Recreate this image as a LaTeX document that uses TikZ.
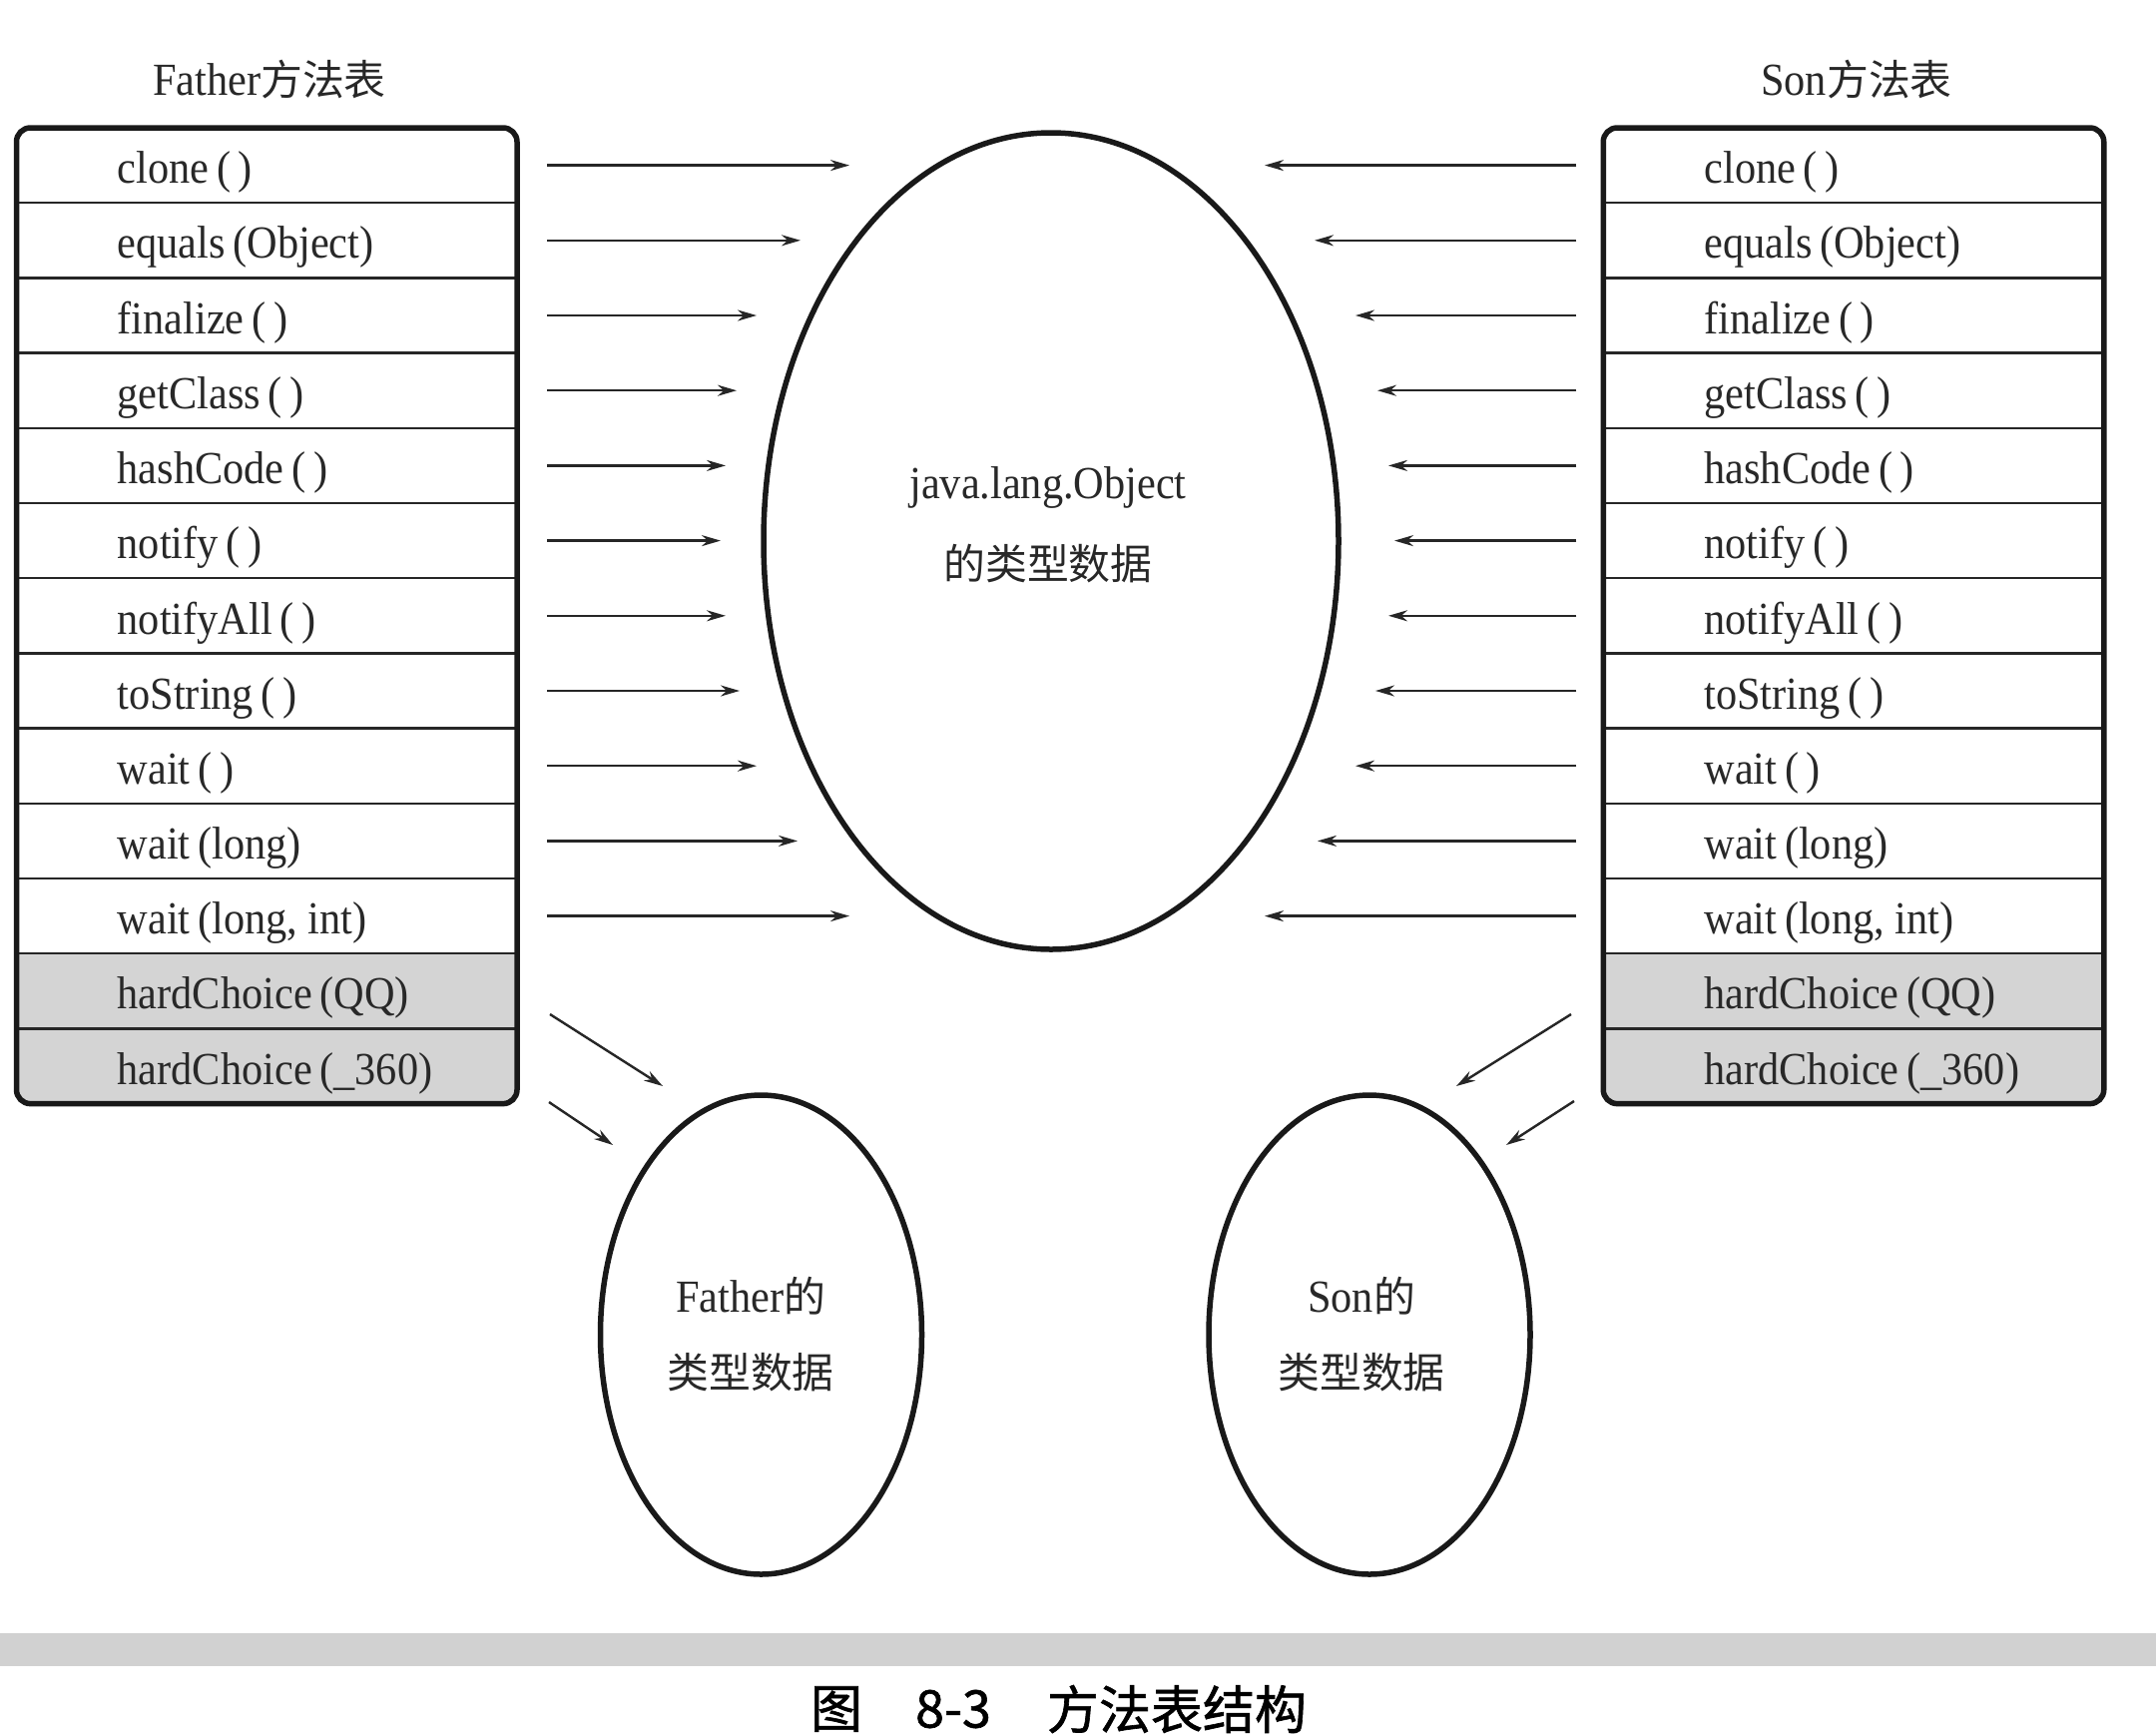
\documentclass[tikz,border=0pt]{standalone}
\usepackage{fontspec}
\setmainfont{Liberation Serif}[FakeStretch=0.92]
\newfontfamily\cjk{Noto Sans CJK SC}[Scale=0.91]
\newfontfamily\capcjk{Noto Sans CJK SC}[FakeBold=1.2]
\usetikzlibrary{arrows.meta,shapes.geometric,fit}
\definecolor{txt}{RGB}{40,40,40}
\definecolor{rowgray}{RGB}{212,212,212}
\newcommand{\rt}[1]{\makebox[299pt][l]{\raisebox{-7pt}[\height][\depth]{#1}}}
\begin{document}
\begin{tikzpicture}[x=1pt,y=-1pt,
  every node/.style={text=txt, font=\fontsize{46pt}{55pt}\selectfont},
  rowbox/.style={rectangle, draw=black!85, line width=2.5pt, minimum width=501.5pt,
    minimum height=75.2pt, inner sep=0pt, outer sep=0pt},
  plain/.style={fill=white},
  hard/.style={fill=rowgray},
  tablebox/.style={rectangle, draw=black!90, line width=5.5pt, rounded corners=14pt, inner sep=0pt},
  oval/.style={ellipse, draw=black!90, line width=5.5pt, inner sep=0pt},
  arr/.style={draw=black!85, line width=2.4pt, -{Stealth[length=19pt,width=11pt]}},
  captxt/.style={text=black, font=\fontsize{52pt}{60pt}\capcjk},
]
\useasboundingbox (0,0) rectangle (2160,1738);
\fill[white] (0,0) rectangle (2160,1738);

% headers
\node (lhead) at (270,80) {Father{\cjk 方法表}};
\node (rhead) at (1860,80) {Son{\cjk 方法表}};

% left table
\begin{scope}
\clip[rounded corners=14pt] (16.5,128) rectangle (518,1106);
\foreach \i/\t/\s in {1/{clone\,(\,)}/plain, 2/{equals\,(Object)}/plain, 3/{finalize\,(\,)}/plain,
  4/{getClass\,(\,)}/plain, 5/{hashCode\,(\,)}/plain, 6/{notify\,(\,)}/plain, 7/{notifyAll\,(\,)}/plain,
  8/{toString\,(\,)}/plain, 9/{wait\,(\,)}/plain, 10/{wait\,(long)}/plain, 11/{wait\,(long, int)}/plain,
  12/{hardChoice\,(QQ)}/hard, 13/{hardChoice\,(\_360)}/hard}{
  \node[rowbox,\s] (L\i) at (267.25,{165.6+75.2*(\i-1)}) {\rt{\t}};
}
\end{scope}
\node[tablebox, fit=(L1)(L13)] (LT) {};

% right table
\begin{scope}
\clip[rounded corners=14pt] (1606,128) rectangle (2108,1106);
\foreach \i/\t/\s in {1/{clone\,(\,)}/plain, 2/{equals\,(Object)}/plain, 3/{finalize\,(\,)}/plain,
  4/{getClass\,(\,)}/plain, 5/{hashCode\,(\,)}/plain, 6/{notify\,(\,)}/plain, 7/{notifyAll\,(\,)}/plain,
  8/{toString\,(\,)}/plain, 9/{wait\,(\,)}/plain, 10/{wait\,(long)}/plain, 11/{wait\,(long, int)}/plain,
  12/{hardChoice\,(QQ)}/hard, 13/{hardChoice\,(\_360)}/hard}{
  \node[rowbox,\s] (R\i) at (1857,{165.6+75.2*(\i-1)}) {\rt{\t}};
}
\end{scope}
\node[tablebox, fit=(R1)(R13)] (RT) {};

% ellipses
\node[oval, minimum width=576pt, minimum height=818pt] (obj) at (1053,542) {};
\node (objt1) at (1050,488) {java.lang.Object};
\node (objt2) at (1050,565) {\cjk 的类型数据};

\node[oval, minimum width=322pt, minimum height=480pt] (fat) at (762.5,1337) {};
\node (fatt1) at (752,1298) {Father{\cjk 的}};
\node (fatt2) at (752,1375) {\cjk 类型数据};

\node[oval, minimum width=322pt, minimum height=480pt] (son) at (1372,1337) {};
\node (sont1) at (1364,1298) {Son{\cjk 的}};
\node (sont2) at (1364,1375) {\cjk 类型数据};

% horizontal arrows
\foreach \i/\lx/\rx in {1/851/1267, 2/802/1317, 3/758/1358, 4/738/1380, 5/727/1391,
  6/722/1397, 7/727/1391, 8/741/1378, 9/758/1358, 10/799/1320, 11/851/1267}{
  \coordinate (la\i) at (\lx,{165.6+75.2*(\i-1)});
  \coordinate (ra\i) at (\rx,{165.6+75.2*(\i-1)});
  \draw[arr] ([xshift=30pt]L\i.east) -- (la\i);
  \draw[arr] ([xshift=-27pt]R\i.west) -- (ra\i);
}

% diagonal arrows
\coordinate (ld1s) at (551,1016); \coordinate (ld1e) at (664,1088);
\coordinate (ld2s) at (550,1104); \coordinate (ld2e) at (614,1147);
\coordinate (rd1s) at (1574,1016); \coordinate (rd1e) at (1459,1088);
\coordinate (rd2s) at (1577,1103); \coordinate (rd2e) at (1509,1147);
\draw[arr] (ld1s) -- (ld1e);
\draw[arr] (ld2s) -- (ld2e);
\draw[arr] (rd1s) -- (rd1e);
\draw[arr] (rd2s) -- (rd2e);

% caption bar
\shade[top color=black!18, middle color=black!9, bottom color=black!18] (0,1636) rectangle (2160,1668);
\node[captxt] (cap1) at (838,1712) {图};
\node[captxt] (cap2) at (955,1712) {8-3};
\node[captxt] (cap3) at (1179,1712) {方法表结构};
\end{tikzpicture}
\end{document}
